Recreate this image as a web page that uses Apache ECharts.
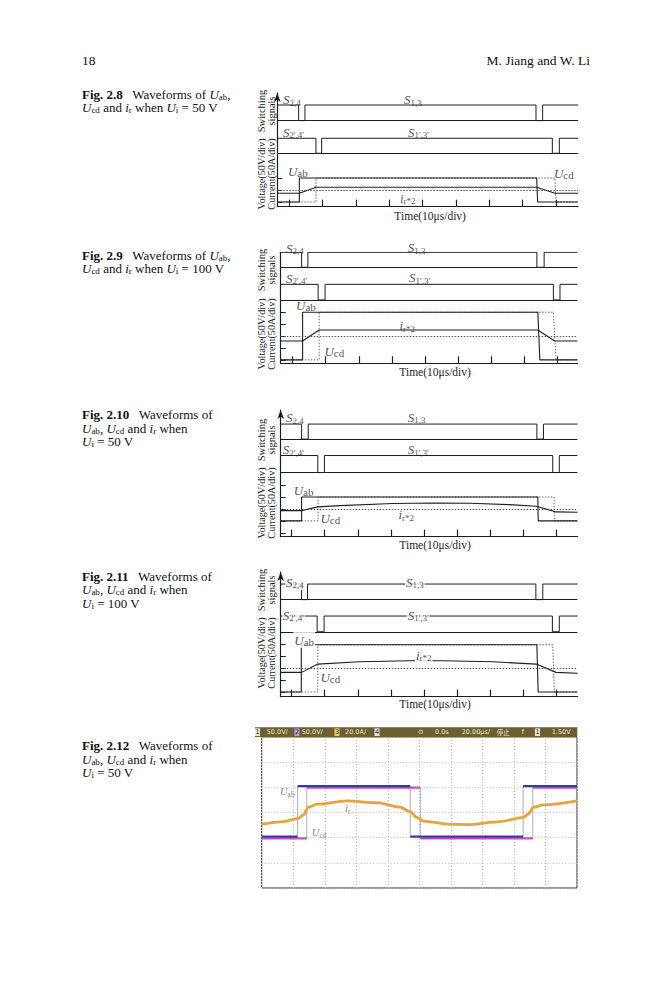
<!DOCTYPE html>
<html><head><meta charset="utf-8">
<script src="https://cdn.jsdelivr.net/npm/echarts@6/dist/echarts.min.js"></script>
<style>html,body{margin:0;padding:0;background:#fff}#c{width:659px;height:1000px}</style>
</head><body><div id="c"></div>
<script>
// ================= DATA =================
const timeTicks = [0, 10, 20, 30, 40, 50, 60, 70, 80];      // µs, one tick per 10 µs
const yTicksSmall = [-1, 0, 1];                              // div
const yTicksLarge = [-2, -1, 0, 1, 2];                       // div

// Fig 2.8 (Ui = 50 V)
const f28_s13  = [[-3.6,7.08],[2.8,7.08],[2.8,5.78],[4.7,5.78],[4.7,7.08],[74.0,7.08],[74.0,5.78],[76.0,5.78],[76.0,7.08],[86.6,7.08]];
const f28_s24p = [[-3.6,4.31],[8.0,4.31],[8.0,3.06],[9.7,3.06],[9.7,4.31],[78.9,4.31],[78.9,3.06],[81.0,3.06],[81.0,4.31],[86.6,4.31]];
const f28_base = [5.78, 3.06];
const f28_uab  = [[-3.6,-1],[3.0,-1],[3.0,1],[74.2,1],[74.5,-1],[86.6,-1]];
const f28_ucd  = [[-3.6,-1],[8.0,-1],[8.0,1],[79.7,1],[80.0,-1],[86.6,-1]];
const f28_ir   = [[-3.6,-0.27],[3.0,-0.27],[8.0,0.23],[74.2,0.23],[79.7,-0.27],[86.6,-0.27]];
const f28_labels = [
  {value:[-2.2,7.5], m:'S', s:'2,4'}, {value:[34.1,7.5], m:'S', s:'1,3'},
  {value:[-2.2,4.83], m:'S', s:"2',4'"}, {value:[35.3,4.83], m:'S', s:"1',3'"},
  {value:[-0.7,1.55], m:'U', s:'ab', k:'u'}, {value:[79.1,1.4], m:'U', s:'cd', k:'u'},
  {value:[32.9,-0.67], m:'i', s:'r*2'}
];

// Fig 2.9 (Ui = 100 V)
const f29_s13  = [[-3.63,7.03],[2.7,7.03],[2.7,5.77],[4.6,5.77],[4.6,7.03],[73.9,7.03],[73.9,5.77],[76.1,5.77],[76.1,7.03],[86.2,7.03]];
const f29_s24p = [[-3.63,4.34],[7.7,4.34],[7.7,3.03],[9.8,3.03],[9.8,4.34],[78.9,4.34],[78.9,3.03],[80.9,3.03],[80.9,4.34],[86.2,4.34]];
const f29_base = [5.77, 3.03];
const f29_uab  = [[-3.63,-2],[3.0,-2],[3.0,2],[74.2,2],[74.8,-2],[86.2,-2]];
const f29_ucd  = [[-3.63,-2],[8.0,-2],[8.0,2],[78.9,2],[79.7,-2],[86.2,-2]];
const f29_ir   = [[-3.63,-0.42],[3.0,-0.42],[8.0,0.5],[74.2,0.5],[79.3,-0.42],[86.2,-0.42]];
const f29_labels = [
  {value:[-2.3,7.37], m:'S', s:'2,4'}, {value:[34.5,7.42], m:'S', s:'1,3'},
  {value:[-2.3,4.85], m:'S', s:"2',4'"}, {value:[34.9,4.9], m:'S', s:"1',3'"},
  {value:[0.7,2.55], m:'U', s:'ab', k:'u'}, {value:[32.0,0.87], m:'i', s:'r*2'},
  {value:[9.3,-1.26], m:'U', s:'cd', k:'u'}
];

// Fig 2.10 (Ui = 50 V)
const f210_s13  = [[-3.33,7.12],[3.0,7.12],[3.0,5.86],[5.0,5.86],[5.0,7.12],[74.2,7.12],[74.2,5.86],[76.2,5.86],[76.2,7.12],[86.5,7.12]];
const f210_s24p = [[-3.33,4.48],[7.9,4.48],[7.9,3.05],[9.9,3.05],[9.9,4.48],[79.0,4.48],[79.0,3.05],[81.0,3.05],[81.0,4.48],[86.5,4.48]];
const f210_base = [5.86, 3.05];
const f210_uab  = [[-3.33,-1],[3.0,-1],[3.0,1],[74.5,1],[74.6,-1],[86.5,-1]];
const f210_ucd  = [[-3.33,-1],[8.0,-1],[8.0,1],[79.4,1],[79.5,-1],[86.5,-1]];
const f210_ir   = [[-3.33,-0.14],[3.0,-0.14],[7.9,0.17],[14.6,0.28],[30.6,0.45],[43,0.5],[54,0.48],[65.8,0.36],[74,0.22],[80,-0.25],[86.5,-0.28]];
const f210_labels = [
  {value:[-2.0,7.65], m:'S', s:'2,4'}, {value:[34.8,7.7], m:'S', s:'1,3'},
  {value:[-3.0,4.98], m:'S', s:"2',4'"}, {value:[34.8,4.98], m:'S', s:"1',3'"},
  {value:[0.3,1.54], m:'U', s:'ab', k:'u'}, {value:[32.0,-0.48], m:'i', s:'r*2'},
  {value:[8.4,-0.8], m:'U', s:'cd', k:'u'}
];

// Fig 2.11 (Ui = 100 V)
const f211_s13  = [[-3.33,7.14],[3.0,7.14],[3.0,5.82],[4.8,5.82],[4.8,7.14],[73.9,7.14],[73.9,5.82],[76.0,5.82],[76.0,7.14],[86.5,7.14]];
const f211_s24p = [[-3.33,4.43],[7.7,4.43],[7.7,3.1],[9.8,3.1],[9.8,4.43],[78.9,4.43],[78.9,3.1],[81.0,3.1],[81.0,4.43],[86.5,4.43]];
const f211_base = [5.82, 3.1];
const f211_uab  = [[-3.33,-2],[2.9,-2],[2.9,2],[74.2,2],[74.6,-2],[86.5,-2]];
const f211_ucd  = [[-3.33,-2],[7.9,-2],[7.9,2],[79.0,2],[79.5,-2],[86.5,-2]];
const f211_ir   = [[-3.33,-0.34],[3.0,-0.34],[7.9,0.36],[20.5,0.56],[35.6,0.64],[45.9,0.64],[60.8,0.56],[74,0.36],[80,-0.34],[86.5,-0.42]];
const f211_labels = [
  {value:[-2.0,7.3], m:'S', s:'2,4'}, {value:[34.3,7.3], m:'S', s:'1,3'},
  {value:[-3.0,4.5], m:'S', s:"2',4'"}, {value:[34.8,4.5], m:'S', s:"1',3'"},
  {value:[0.5,2.4], m:'U', s:'ab', k:'u'}, {value:[37.3,1.13], m:'i', s:'r*2'},
  {value:[8.4,-0.76], m:'U', s:'cd', k:'u'}
];

// Fig 2.12 oscilloscope (div units)
const f212_uab = [[0,-0.96],[1.14,-0.96],[1.14,1.05],[4.71,1.05],[4.71,-0.96],[8.29,-0.96],[8.29,1.05],[10,1.05]];
const f212_ucd = [[0,-1.03],[1.43,-1.03],[1.43,0.99],[5.03,0.99],[5.03,-1.03],[8.6,-1.03],[8.6,0.99],[10,0.99]];
const f212_ir  = [[0,-0.46],[0.69,-0.36],[1.16,-0.23],[1.32,-0.1],[1.48,0.21],[1.75,0.33],[2.7,0.46],[3.65,0.39],[4.39,0.21],[4.71,0.03],[4.92,-0.19],[5.13,-0.34],[5.98,-0.47],[6.51,-0.48],[7.57,-0.36],[8.3,-0.19],[8.46,-0.06],[8.62,0.21],[8.94,0.3],[10,0.46]];
const f212_labels = [
  {value:[0.58,0.83], m:'U', s:'ab'}, {value:[2.64,0.14], m:'i', s:'r'}, {value:[1.59,-0.81], m:'U', s:'cd'}
];
const scopeHeaderTexts = ['1','50.0V/','2','50.0V/','3','20.0A/','4','⊙','0.0s','20.00μs/','停止','f','1','1.50V'];

// captions
const captions = [
  ['{b|Fig. 2.8}\u2002 Waveforms of {i|U}{s|ab},', '{i|U}{s|cd} and {i|i}{s|r} when {i|U}{s|i} = 50 V'],
  ['{b|Fig. 2.9}\u2002 Waveforms of {i|U}{s|ab},', '{i|U}{s|cd} and {i|i}{s|r} when {i|U}{s|i} = 100 V'],
  ['{b|Fig. 2.10}\u2002 Waveforms of', '{i|U}{s|ab}, {i|U}{s|cd} and {i|i}{s|r} when', '{i|U}{s|i} = 50 V'],
  ['{b|Fig. 2.11}\u2002 Waveforms of', '{i|U}{s|ab}, {i|U}{s|cd} and {i|i}{s|r} when', '{i|U}{s|i} = 100 V'],
  ['{b|Fig. 2.12}\u2002 Waveforms of', '{i|U}{s|ab}, {i|U}{s|cd} and {i|i}{s|r} when', '{i|U}{s|i} = 50 V']
];
const pageNumber = '18';
const runningHead = 'M. Jiang and W. Li';
const timeName = 'Time(10μs/div)';
const swName = 'Switching\nsignals';
const vcName = 'Voltage(50V/div)\nCurrent(50A/div)';

// ================= LAYOUT / STYLE =================
const SERIF = '"Liberation Serif","Times New Roman",serif';
const INK = '#1e1e1e';
const layout = [
  {left:277.3, top:93,    width:300.7, height:113.7, xmin:-3.6,  xmax:86.6, ymin:-1.39, ymax:8.08, arrow:true,  gap:3, pad:5,  yt:yTicksSmall},
  {left:280.7, top:252.3, width:296.8, height:111,   xmin:-3.63, xmax:86.2, ymin:-2.29, ymax:7.03, arrow:false, gap:3, pad:12, yt:yTicksLarge},
  {left:280.7, top:410,   width:296.8, height:126.7, xmin:-3.33, xmax:86.5, ymin:-2.33, ymax:8.3,  arrow:true,  gap:2, pad:12, yt:yTicksLarge},
  {left:280.7, top:572,   width:296.8, height:124.7, xmin:-3.33, xmax:86.5, ymin:-2.4,  ymax:8.16, arrow:true,  gap:1, pad:12, yt:yTicksLarge}
];
const figs = [
  {s13:f28_s13,  s24p:f28_s24p,  base:f28_base,  uab:f28_uab,  ucd:f28_ucd,  ir:f28_ir,  labels:f28_labels},
  {s13:f29_s13,  s24p:f29_s24p,  base:f29_base,  uab:f29_uab,  ucd:f29_ucd,  ir:f29_ir,  labels:f29_labels},
  {s13:f210_s13, s24p:f210_s24p, base:f210_base, uab:f210_uab, ucd:f210_ucd, ir:f210_ir, labels:f210_labels},
  {s13:f211_s13, s24p:f211_s24p, base:f211_base, uab:f211_uab, ucd:f211_ucd, ir:f211_ir, labels:f211_labels, bg:true}
];
const capTop = [87.5, 248.5, 408, 569.5, 739];
const capLineGap = 13.5;
const sidePos = [[111,174],[270,334],[440,503],[590,653]];
const scopeGrid = {left:261.7, top:737, width:315.3, height:151};
const scopeHeaderX = [255.5,266.7,295,301.7,335,345,375,418,435,461.7,496.7,521.7,535.5,551.7];
const scopeHeaderBox = {0:'#e9e5cf',2:'#bb98de',4:'#ecc95c',6:'#e6e6e6',12:'#e9e5cf'};

const figRich = {
  m:{fontFamily:SERIF, fontStyle:'italic', fontSize:13, color:INK, lineHeight:16},
  s:{fontFamily:SERIF, fontSize:9, color:INK, verticalAlign:'bottom', height:10, lineHeight:16},
  u:{fontFamily:SERIF, fontSize:11, color:INK, verticalAlign:'bottom', height:13, lineHeight:16}
};
const scopeRich = {
  m:{fontFamily:SERIF, fontStyle:'italic', fontSize:10.5, color:'#666', lineHeight:14},
  s:{fontFamily:SERIF, fontSize:7.5, color:'#666', verticalAlign:'bottom', height:8, lineHeight:14}
};
const capRich = {
  b:{fontFamily:SERIF, fontWeight:'bold', fontSize:13, lineHeight:13.5, fill:'#111'},
  i:{fontFamily:SERIF, fontStyle:'italic', fontSize:13, lineHeight:13.5, fill:'#111'},
  s:{fontFamily:SERIF, fontSize:9, verticalAlign:'bottom', height:9, lineHeight:13.5, fill:'#111'}
};

// ================= BUILD =================
const grid = [], xAxis = [], yAxis = [], series = [];
layout.forEach((L, i) => {
  const F = figs[i];
  grid.push({left:L.left, top:L.top, width:L.width, height:L.height, containLabel:false, outerBoundsMode:'none'});
  xAxis.push({
    type:'value', gridIndex:i, min:L.xmin, max:L.xmax,
    axisLine:{onZero:false, lineStyle:{color:INK, width:1.2}},
    axisTick:{show:true, inside:true, length:7, customValues:timeTicks, lineStyle:{color:INK, width:1.2}},
    axisLabel:{show:false}, splitLine:{show:false},
    name:timeName, nameLocation:'middle', nameGap:L.gap,
    nameTextStyle:{fontFamily:SERIF, fontSize:11.5, color:INK, padding:[0,0,0,L.pad], verticalAlign:'top'}
  });
  yAxis.push({
    type:'value', gridIndex:i, min:L.ymin, max:L.ymax,
    axisLine:{onZero:false, symbol:L.arrow ? ['none','arrow'] : ['none','none'], symbolSize:[5,9], lineStyle:{color:INK, width:1.2}},
    axisTick:{show:true, inside:true, length:5, customValues:L.yt, lineStyle:{color:INK, width:1}},
    axisLabel:{show:false}, splitLine:{show:false}
  });
  const base = {type:'line', xAxisIndex:i, yAxisIndex:i, symbol:'none', silent:true, animation:false};
  series.push(Object.assign({}, base, {
    data:F.s13, lineStyle:{color:INK, width:1},
    markLine:{symbol:'none', silent:true, animation:false, label:{show:false},
      data:[
        {yAxis:F.base[0], lineStyle:{color:INK, width:1, type:'solid'}},
        {yAxis:F.base[1], lineStyle:{color:INK, width:1, type:'solid'}},
        {yAxis:0, lineStyle:{color:'#555', width:1, type:[1.5,1.5]}}
      ]}
  }));
  series.push(Object.assign({}, base, {data:F.s24p, lineStyle:{color:INK, width:1}}));
  series.push(Object.assign({}, base, {data:F.ucd, lineStyle:{color:'#666', width:1, type:[1.5,1.5]}}));
  series.push(Object.assign({}, base, {data:F.uab, lineStyle:{color:INK, width:1.1}}));
  series.push(Object.assign({}, base, {data:F.ir, lineStyle:{color:INK, width:1.1}}));
  series.push({
    type:'scatter', xAxisIndex:i, yAxisIndex:i, data:F.labels, symbolSize:0, clip:false, silent:true, animation:false, z:5,
    label:{show:true, position:[0,0], align:'left', verticalAlign:'middle',
      backgroundColor: F.bg ? '#fff' : 'transparent', padding:[0,1,0,1],
      formatter:p => '{m|' + p.data.m + '}{' + (p.data.k || 's') + '|' + p.data.s + '}', rich:figRich}
  });
});

// oscilloscope grid
const gi = 4;
grid.push(Object.assign({show:true, borderColor:'#333', borderWidth:1, backgroundColor:'#fff', containLabel:false, outerBoundsMode:'none'}, scopeGrid));
xAxis.push({type:'value', gridIndex:gi, min:0, max:10, interval:1, axisLine:{show:false}, axisTick:{show:false}, axisLabel:{show:false},
  splitLine:{show:true, lineStyle:{color:'#c4c4c4', type:[1,2], width:1}}});
yAxis.push({type:'value', gridIndex:gi, min:-3, max:3, interval:1, axisLine:{show:false}, axisTick:{show:false}, axisLabel:{show:false},
  splitLine:{show:true, lineStyle:{color:'#c4c4c4', type:[1,2], width:1}}});

function splitStep(pts){
  const lv = [], ed = [];
  for (let k = 0; k < pts.length - 1; k++){
    const a = pts[k], b = pts[k+1];
    if (a[1] === b[1]) lv.push(a, b, [b[0], '-']); else ed.push(a, b, [b[0], '-']);
  }
  return {lv, ed};
}
const sUcd = splitStep(f212_ucd), sUab = splitStep(f212_uab);
const sb = {type:'line', xAxisIndex:gi, yAxisIndex:gi, symbol:'none', silent:true, animation:false, connectNulls:false};
series.push(Object.assign({}, sb, {data:sUcd.ed, lineStyle:{color:'#9a9a9a', width:0.8}}));
series.push(Object.assign({}, sb, {data:sUab.ed, lineStyle:{color:'#9a9a9a', width:0.8}}));
series.push(Object.assign({}, sb, {data:sUcd.lv, lineStyle:{color:'#c84cc8', width:2.4}}));
series.push(Object.assign({}, sb, {data:sUab.lv, lineStyle:{color:'#363c9c', width:2.4}}));
series.push(Object.assign({}, sb, {data:f212_ir, smooth:0.3, smoothMonotone:'x', lineStyle:{color:'#e6a43c', width:2.8}}));
series.push({type:'scatter', xAxisIndex:gi, yAxisIndex:gi, data:f212_labels, symbolSize:0, clip:false, silent:true, animation:false, z:5,
  label:{show:true, position:[0,0], align:'left', verticalAlign:'middle',
    formatter:p => '{m|' + p.data.m + '}{s|' + p.data.s + '}', rich:scopeRich}});

// graphics: page header, captions, side labels, scope header bar
const graphic = [];
graphic.push({type:'text', x:82, y:60, style:{text:pageNumber, fontFamily:SERIF, fontSize:13.5, fill:'#111', align:'left', verticalAlign:'middle', textAlign:'left', textVerticalAlign:'middle'}});
graphic.push({type:'text', x:590, y:60, style:{text:runningHead, fontFamily:SERIF, fontSize:13.5, fill:'#111', align:'right', verticalAlign:'middle', textAlign:'right', textVerticalAlign:'middle'}});
captions.forEach((lines, k) => {
  lines.forEach((ln, j) => {
    graphic.push({type:'text', x:82, y:capTop[k] + j * capLineGap, style:{text:ln, rich:capRich, fontFamily:SERIF, fontSize:13, lineHeight:13.5, fill:'#111', align:'left', verticalAlign:'top', textAlign:'left', textVerticalAlign:'top'}});
  });
});
sidePos.forEach(p => {
  graphic.push({type:'text', x:266.5, y:p[0], rotation:Math.PI/2, style:{text:swName, fontFamily:SERIF, fontSize:10.5, lineHeight:10, fill:INK, align:'center', verticalAlign:'middle', textAlign:'center', textVerticalAlign:'middle'}});
  graphic.push({type:'text', x:266.5, y:p[1], rotation:Math.PI/2, style:{text:vcName, fontFamily:SERIF, fontSize:10.2, lineHeight:10, fill:INK, align:'center', verticalAlign:'middle', textAlign:'center', textVerticalAlign:'middle'}});
});
graphic.push({type:'rect', shape:{x:255, y:727.3, width:322.3, height:9.7}, style:{fill:'#6c5f31'}});
scopeHeaderTexts.forEach((t, k) => {
  const x = scopeHeaderX[k];
  const box = scopeHeaderBox[k];
  if (box) graphic.push({type:'rect', shape:{x:x - 0.5, y:728.3, width:5, height:7.7}, style:{fill:box}});
  graphic.push({type:'text', x: box ? x + 2 : x, y:732.2, style:{text:t,
    fontFamily: t === '停止' ? '"Noto Sans CJK SC",sans-serif' : '"DejaVu Sans",sans-serif',
    fontSize:6.5, fill: box ? '#333' : '#efe7c6',
    align: box ? 'center' : 'left', verticalAlign:'middle', textAlign: box ? 'center' : 'left', textVerticalAlign:'middle'}});
});

const chart = echarts.init(document.getElementById('c'), null, {renderer:'svg', width:659, height:1000});
chart.setOption({backgroundColor:'#fff', animation:false, grid, xAxis, yAxis, series, graphic});
</script></body></html>
